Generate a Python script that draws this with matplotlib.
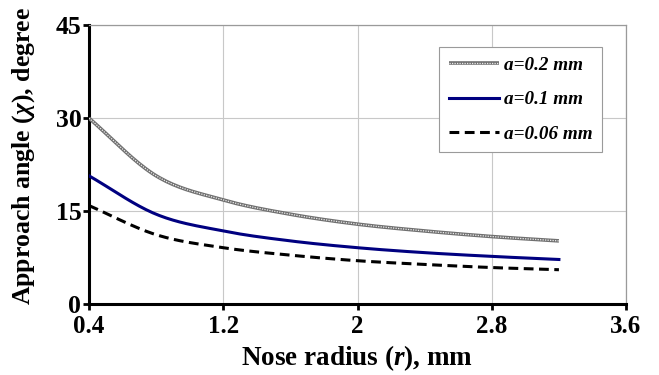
import numpy as np
import matplotlib
matplotlib.use("Agg")
import matplotlib.pyplot as plt
from matplotlib.lines import Line2D

# Nose radius r (mm) and approach angle (degree) for three depths of cut
nose_radius = [0.4, 0.8, 1.2, 1.6, 2.0, 2.4, 2.8, 3.2]
angle_a020 = [30.0, 20.7, 16.8, 14.5, 12.9, 11.8, 10.9, 10.2]
angle_a010 = [20.7, 14.5, 11.8, 10.2, 9.1, 8.3, 7.7, 7.2]
angle_a006 = [15.9, 11.2, 9.1, 7.9, 7.0, 6.4, 5.9, 5.55]

series_labels = ["a=0.2 mm", "a=0.1 mm", "a=0.06 mm"]
x_ticks = [0.4, 1.2, 2.0, 2.8, 3.6]
x_ticklabels = ["0.4", "1.2", "2", "2.8", "3.6"]
y_ticks = [0, 15, 30, 45]


def smooth(x, y, n=20):
    """Catmull-Rom curve through the points, like a spreadsheet smoothed line."""
    x = np.asarray(x, float)
    y = np.asarray(y, float)
    px = np.concatenate([[2 * x[0] - x[1]], x, [2 * x[-1] - x[-2]]])
    py = np.concatenate([[2 * y[0] - y[1]], y, [2 * y[-1] - y[-2]]])
    xs, ys = [], []
    t = np.linspace(0, 1, n, endpoint=False)
    for i in range(1, len(px) - 2):
        for p, out in ((px, xs), (py, ys)):
            p0, p1, p2, p3 = p[i - 1], p[i], p[i + 1], p[i + 2]
            out.extend(0.5 * ((2 * p1) + (-p0 + p2) * t
                              + (2 * p0 - 5 * p1 + 4 * p2 - p3) * t ** 2
                              + (-p0 + 3 * p1 - 3 * p2 + p3) * t ** 3))
    xs.append(x[-1])
    ys.append(y[-1])
    return np.array(xs), np.array(ys)


plt.rcParams["font.family"] = ["Liberation Serif", "DejaVu Serif"]
plt.rcParams["font.weight"] = "bold"
plt.rcParams["mathtext.fontset"] = "custom"
plt.rcParams["mathtext.rm"] = "Liberation Serif:bold"
plt.rcParams["mathtext.it"] = "Liberation Serif:italic:bold"
plt.rcParams["mathtext.bf"] = "Liberation Serif:bold"

fig = plt.figure(figsize=(6.59, 3.75), dpi=100)
ax = fig.add_axes([0.135, 0.189, 0.815, 0.744])

# textured grey line: dark base with light dots on top
sx, sy = smooth(nose_radius, angle_a020)
ax.plot(sx, sy, color="#707070", lw=2.6, solid_capstyle="butt", zorder=3)
ax.plot(sx, sy, color="#ececec", lw=0.9, linestyle=(0, (1, 1)), zorder=4)

sx, sy = smooth(nose_radius, angle_a010)
ax.plot(sx, sy, color="#000080", lw=2.2, zorder=3)

sx, sy = smooth(nose_radius, angle_a006)
ax.plot(sx, sy, color="black", lw=2.2, linestyle=(0, (3.2, 1.8)), zorder=3)

ax.set_xlim(0.4, 3.6)
ax.set_ylim(0, 45)
ax.set_xticks(x_ticks)
ax.set_xticklabels(x_ticklabels)
ax.set_yticks(y_ticks)
ax.grid(True, color="#c8c8c8", lw=0.8)
ax.set_axisbelow(True)

for side in ("top", "right"):
    ax.spines[side].set_color("#9a9a9a")
    ax.spines[side].set_linewidth(0.9)
for side in ("left", "bottom"):
    ax.spines[side].set_color("black")
    ax.spines[side].set_linewidth(2.2)

ax.tick_params(axis="x", direction="out", length=4.5, width=2, color="black",
               labelsize=18, pad=3)
ax.tick_params(axis="y", direction="out", length=4.5, width=2, color="black",
               labelsize=18.5, pad=1)
for lab in ax.get_xticklabels() + ax.get_yticklabels():
    lab.set_fontweight("bold")

ax.set_xlabel(r"Nose radius ($\mathit{r}$), mm", fontsize=19.5, fontweight="bold", labelpad=4)
ax.set_ylabel(r"Approach angle ($\mathit{\chi}$), degree", fontsize=18.5, fontweight="bold")
ax.yaxis.set_label_coords(-0.097, 0.53)

h_grey = (Line2D([], [], color="#707070", lw=2.6, solid_capstyle="butt"),
          Line2D([], [], color="#ececec", lw=0.9, linestyle=(0, (1, 1))))
h_blue = Line2D([], [], color="#000080", lw=2.2)
h_dash = Line2D([], [], color="black", lw=2.2, linestyle=(0, (3.2, 1.8)))
leg = ax.legend([h_grey, h_blue, h_dash], series_labels,
                loc="upper left", bbox_to_anchor=(0.652, 0.921), borderaxespad=0,
                prop={"family": "Liberation Serif", "weight": "bold",
                      "style": "italic", "size": 13.8},
                handlelength=2.6, handletextpad=0.27, labelspacing=0.88,
                borderpad=0.5, fancybox=False, framealpha=1, edgecolor="#9a9a9a")
leg.get_frame().set_linewidth(0.8)

fig.savefig("out.png", dpi=100)
